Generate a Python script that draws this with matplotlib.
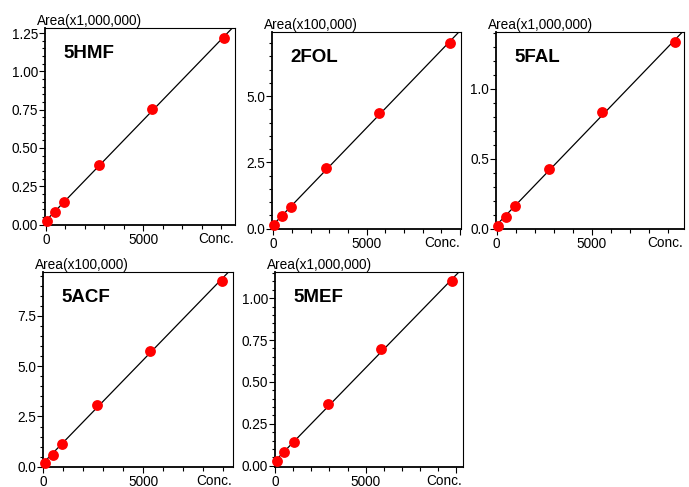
import matplotlib
matplotlib.use("Agg")
import matplotlib.pyplot as plt
from matplotlib.ticker import MultipleLocator, FuncFormatter
import numpy as np

plt.rcParams['font.family'] = ['Liberation Sans', 'DejaVu Sans']

# calibration data (area already divided by the unit)
names = ["5HMF", "2FOL", "5FAL", "5ACF", "5MEF"]
units = ["Area(x1,000,000)", "Area(x100,000)", "Area(x1,000,000)",
         "Area(x100,000)", "Area(x1,000,000)"]

conc_5hmf = [36, 462, 924, 2722, 5460, 9142]
area_5hmf = [0.026, 0.085, 0.145, 0.387, 0.755, 1.22]

conc_2fol = [40, 466, 948, 2839, 5645, 9480]
area_2fol = [0.14, 0.49, 0.82, 2.28, 4.37, 7.02]

conc_5fal = [52, 466, 947, 2757, 5551, 9364]
area_5fal = [0.021, 0.086, 0.162, 0.427, 0.833, 1.331]

conc_5acf = [83, 470, 933, 2670, 5320, 8920]
area_5acf = [0.2, 0.61, 1.14, 3.05, 5.77, 9.22]

conc_5mef = [77, 496, 1015, 2923, 5847, 9802]
area_5mef = [0.025, 0.082, 0.141, 0.368, 0.695, 1.1]

concs = [conc_5hmf, conc_2fol, conc_5fal, conc_5acf, conc_5mef]
areas = [area_5hmf, area_2fol, area_5fal, area_5acf, area_5mef]

# axis ranges and y tick steps
xlims = [(-50, 9700), (-70, 10050), (-36, 9860), (-15, 9485), (-20, 10400)]
ylims = [(-0.003, 1.283), (-0.01, 7.42), (-0.003, 1.406), (-0.01, 9.68), (-0.008, 1.156)]
ymajor = [0.25, 2.5, 0.5, 2.5, 0.25]
yminor = [0.05, 0.5, 0.1, 0.5, 0.05]
yfmt = ['%.2f', '%.1f', '%.1f', '%.1f', '%.2f']

# box positions in pixels: left, right, top, bottom
W, H = 689, 487
boxes = [(45, 235, 28, 225), (272, 461, 32, 229), (496, 684, 32, 229),
         (43, 233, 272, 467), (275, 463, 272, 467)]

fs = 9.8

fig = plt.figure(figsize=(W / 100, H / 100), dpi=100)

for i in range(len(names)):
    l, r, t, b = boxes[i]
    ax = fig.add_axes([l / W, 1 - b / H, (r - l) / W, (b - t) / H])
    x = np.array(concs[i], dtype=float)
    y = np.array(areas[i], dtype=float)

    # regression line
    k, c = np.polyfit(x, y, 1)
    xx = np.array([0, xlims[i][1]])
    ax.plot(xx, k * xx + c, color='black', lw=0.9, zorder=2)
    ax.plot(x, y, 'o', color='#ff0000', markersize=7.8, markeredgewidth=0,
            zorder=3, clip_on=False)

    ax.set_xlim(*xlims[i])
    ax.set_ylim(*ylims[i])

    ax.xaxis.set_major_locator(MultipleLocator(5000))
    ax.xaxis.set_minor_locator(MultipleLocator(1000))
    ax.xaxis.set_major_formatter(FuncFormatter(lambda v, p: '%d' % v if v <= 5000 else ''))
    ax.yaxis.set_major_locator(MultipleLocator(ymajor[i]))
    ax.yaxis.set_minor_locator(MultipleLocator(yminor[i]))
    ax.yaxis.set_major_formatter(FuncFormatter(lambda v, p, f=yfmt[i]: f % v))

    ax.tick_params(axis='y', which='major', length=4.5, width=0.8, pad=0.5, labelsize=fs)
    ax.tick_params(axis='y', which='minor', length=2.5, width=0.8)
    ax.tick_params(axis='x', which='major', length=4, width=0.8, pad=1.5, labelsize=fs)
    ax.tick_params(axis='x', which='minor', length=3, width=0.8)

    for s in ['left', 'bottom']:
        ax.spines[s].set_linewidth(1.3)
    for s in ['top', 'right']:
        ax.spines[s].set_linewidth(0.8)

    ax.annotate(units[i], xy=(0, 1), xycoords='axes fraction', xytext=(-8, 0),
                textcoords='offset pixels', ha='left', va='bottom', fontsize=fs)
    ax.annotate('Conc.', xy=(1, 0), xycoords='axes fraction', xytext=(-1, -7),
                textcoords='offset pixels', ha='right', va='top', fontsize=fs)
    ax.annotate(names[i], xy=(0, 1), xycoords='axes fraction', xytext=(18, -25),
                textcoords='offset pixels', ha='left', va='center', fontsize=13.5,
                fontweight='bold')

fig.savefig("out.png", dpi=100)
